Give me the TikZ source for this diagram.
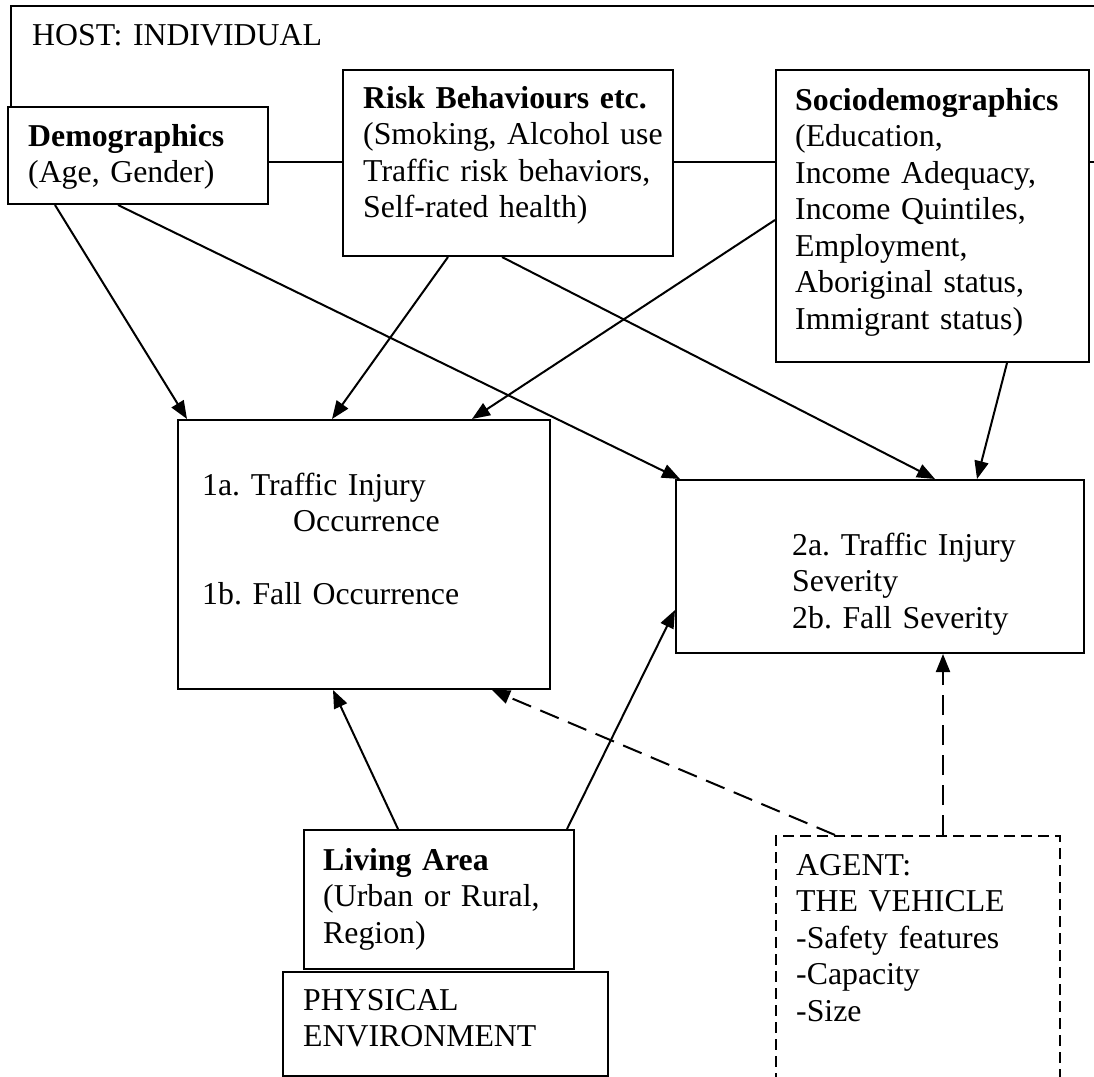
\documentclass[tikz,border=0pt]{standalone}
\usepackage{fontspec}
\setmainfont{Liberation Serif}
\usetikzlibrary{arrows.meta}
\begin{document}
\frenchspacing
\begin{tikzpicture}[x=1pt,y=-1pt,
  box/.style={draw, line width=2pt, fill=white, anchor=north west, inner sep=0pt},
  dbox/.style={box, dash pattern=on 11pt off 6pt},
  txt/.style={anchor=base west, inner sep=0pt, text width=340pt, align=left, font=\fontsize{31.8}{36.5}\selectfont},
  conn/.style={line width=2pt, -{Triangle[length=18pt,width=14pt]}},
  dconn/.style={conn, dash pattern=on 20pt off 10pt},
]
\useasboundingbox (0,0) rectangle (1094,1076);
\clip (0,0) rectangle (1094,1076);
\fill[white] (0,0) rectangle (1094,1076);

% boxes
\node[box, minimum width=1120pt, minimum height=156pt] (host) at (10,5) {};
\node[box, minimum width=260pt, minimum height=97pt] (demo) at (7,106) {};
\node[box, minimum width=330pt, minimum height=186pt] (risk) at (342,69) {};
\node[box, minimum width=313pt, minimum height=292pt] (socio) at (775,69) {};
\node[box, minimum width=372pt, minimum height=269pt] (out1) at (177,419) {};
\node[box, minimum width=408pt, minimum height=173pt] (out2) at (675,479) {};
\node[box, minimum width=270pt, minimum height=139pt] (living) at (303,829) {};
\node[box, minimum width=325pt, minimum height=104pt] (phys) at (282,971) {};
\node[dbox, minimum width=284pt, minimum height=300pt] (agent) at (775,835) {};

% texts
\node[txt] (host-t) at (32,45) {HOST: INDIVIDUAL};
\node[txt] (demo-t) at (28,146) {\textbf{Demographics}\\(Age, Gender)};
\node[txt] (risk-t) at (363,108) {\textbf{Risk Behaviours etc.}\\(Smoking, Alcohol use\\Traffic risk behaviors,\\Self-rated health)};
\node[txt] (socio-t) at (795,110) {\textbf{Sociodemographics}\\(Education,\\Income Adequacy,\\Income Quintiles,\\Employment,\\Aboriginal status,\\Immigrant status)};
\node[txt] (out1-t) at (202,495) {1a. Traffic Injury\\\hspace*{91pt}Occurrence\\[36.5pt]1b. Fall Occurrence};
\node[txt] (out2-t) at (792,555) {2a. Traffic Injury\\Severity\\2b. Fall Severity};
\node[txt] (living-t) at (323,870) {\textbf{Living Area}\\(Urban or Rural,\\Region)};
\node[txt] (phys-t) at (303,1010) {PHYSICAL\\ENVIRONMENT};
\node[txt] (agent-t) at (796,875) {AGENT:\\THE VEHICLE\\-Safety features\\-Capacity\\-Size};

% connectors
\draw[conn] ([xshift=48pt]demo.south west) -- ([xshift=10pt]out1.north west);
\draw[conn] ([xshift=111pt]demo.south west) -- ([xshift=5pt]out2.north west);
\draw[conn] ([xshift=106pt]risk.south west) -- ([xshift=155pt]out1.north west);
\draw[conn] ([xshift=160pt]risk.south west) -- ([xshift=260pt]out2.north west);
\draw[conn] ([yshift=-151pt]socio.north west) -- ([xshift=295pt]out1.north west);
\draw[conn] ([xshift=232pt]socio.south west) -- ([xshift=302pt]out2.north west);
\draw[conn] ([xshift=95pt]living.north west) -- ([xshift=156pt]out1.south west);
\draw[conn] ([xshift=264pt]living.north west) -- ([yshift=-131pt]out2.north west);
\draw[dconn] ([xshift=60pt]agent.north west) -- ([xshift=315pt]out1.south west);
\draw[dconn] ([xshift=168pt]agent.north west) -- ([xshift=268pt]out2.south west);
\end{tikzpicture}
\end{document}
